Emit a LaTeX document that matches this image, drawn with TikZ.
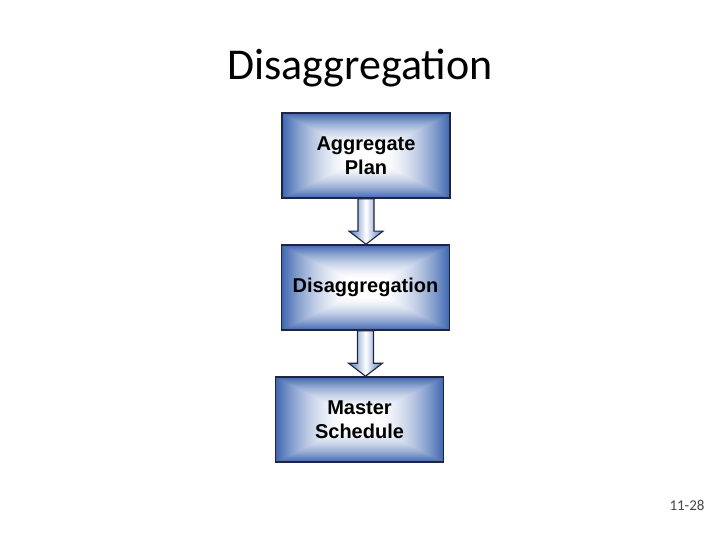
\documentclass[tikz,border=0pt]{standalone}
\usepackage{fontspec}
\setmainfont{Carlito}
\newfontfamily\boxfont{Liberation Sans}
\usetikzlibrary{calc}
\definecolor{boxblue}{RGB}{62,102,176}
\definecolor{boxedge}{RGB}{28,38,66}
\definecolor{pagenum}{RGB}{70,70,70}
% white centre, blue rim, square contours
\pgfdeclarefunctionalshading{rectglow}{\pgfpoint{0bp}{0bp}}{\pgfpoint{100bp}{100bp}}{}{
  50 sub abs exch 50 sub abs 2 copy lt {exch} if pop 25 div
  dup 1 gt {pop 1} if
  dup mul 0.05 sub 0.95 div dup 0 lt {pop 0} if
  dup dup
  0.3098 mul neg 1 add
  3 1 roll
  0.6000 mul neg 1 add
  exch
  0.7569 mul neg 1 add
  3 1 roll
  exch
}
\tikzset{
  blk/.style={draw=boxedge, line width=1.6pt, shading=rectglow,
              minimum width=168pt, minimum height=85pt, align=center,
              font=\boxfont\bfseries\fontsize{20}{24}\selectfont},
  fatarr/.style={draw=boxedge, line width=1.1pt, line join=miter,
                 left color=boxblue!90, right color=boxblue!90, middle color=white},
  ttl/.style={font=\fontsize{44}{50}\selectfont},
  pnum/.style={font=\fontsize{15}{18}\selectfont, text=pagenum},
}

\begin{document}
\begin{tikzpicture}[x=1pt, y=-1pt]
  \useasboundingbox (0,0) rectangle (720,540);
  \node[ttl] (title) at (360,68) {Disaggregation};

  \node[blk] (plan) at (366,155.5) {Aggregate\\Plan};
  \node[blk] (disagg) at (365.5,287.5) {Disaggregation};
  \node[blk] (master) at (359.5,419.5) {Master\\Schedule};

  % block arrows between the boxes
  \shade[fatarr] ($(plan.south)+(-8,0)$) -- ($(plan.south |- disagg.north)+(-8,-13)$)
    -- ++(-9,0) -- (plan.south |- disagg.north) -- ++(17,-13) -- ++(-9,0)
    -- ($(plan.south)+(8,0)$) -- cycle;
  \shade[fatarr] ($(disagg.south)+(-8,0)$) -- ($(disagg.south |- master.north)+(-8,-13)$)
    -- ++(-9,0) -- (disagg.south |- master.north) -- ++(17,-13) -- ++(-9,0)
    -- ($(disagg.south)+(8,0)$) -- cycle;

  \node[pnum] (page) at (687,505) {11-28};
\end{tikzpicture}
\end{document}
